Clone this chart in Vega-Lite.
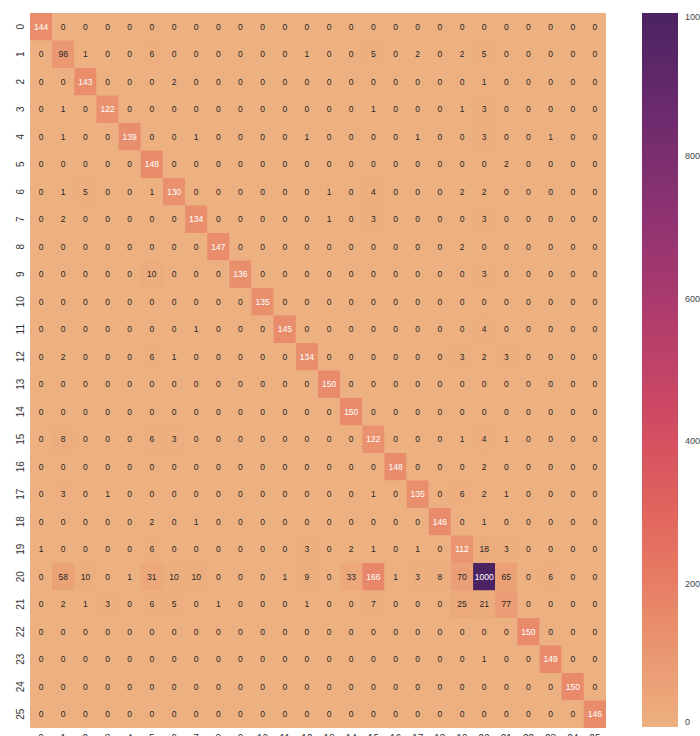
{
"$schema": "https://vega.github.io/schema/vega-lite/v6.json",
"autosize": "none",
"width": 576,
"height": 715,
"padding": {"left": 30, "top": 13, "right": 94, "bottom": 8},
"background": "white",
"config": {"view": {"stroke": null, "fill": "#EDB080"}, "font": "Liberation Sans"},
"data": {"values": [
{"r":0,"c":0,"v":144},{"r":0,"c":1,"v":0},{"r":0,"c":2,"v":0},{"r":0,"c":3,"v":0},{"r":0,"c":4,"v":0},{"r":0,"c":5,"v":0},{"r":0,"c":6,"v":0},{"r":0,"c":7,"v":0},{"r":0,"c":8,"v":0},{"r":0,"c":9,"v":0},{"r":0,"c":10,"v":0},{"r":0,"c":11,"v":0},{"r":0,"c":12,"v":0},{"r":0,"c":13,"v":0},{"r":0,"c":14,"v":0},{"r":0,"c":15,"v":0},{"r":0,"c":16,"v":0},{"r":0,"c":17,"v":0},{"r":0,"c":18,"v":0},{"r":0,"c":19,"v":0},{"r":0,"c":20,"v":0},{"r":0,"c":21,"v":0},{"r":0,"c":22,"v":0},{"r":0,"c":23,"v":0},{"r":0,"c":24,"v":0},{"r":0,"c":25,"v":0},
{"r":1,"c":0,"v":0},{"r":1,"c":1,"v":98},{"r":1,"c":2,"v":1},{"r":1,"c":3,"v":0},{"r":1,"c":4,"v":0},{"r":1,"c":5,"v":6},{"r":1,"c":6,"v":0},{"r":1,"c":7,"v":0},{"r":1,"c":8,"v":0},{"r":1,"c":9,"v":0},{"r":1,"c":10,"v":0},{"r":1,"c":11,"v":0},{"r":1,"c":12,"v":1},{"r":1,"c":13,"v":0},{"r":1,"c":14,"v":0},{"r":1,"c":15,"v":5},{"r":1,"c":16,"v":0},{"r":1,"c":17,"v":2},{"r":1,"c":18,"v":0},{"r":1,"c":19,"v":2},{"r":1,"c":20,"v":5},{"r":1,"c":21,"v":0},{"r":1,"c":22,"v":0},{"r":1,"c":23,"v":0},{"r":1,"c":24,"v":0},{"r":1,"c":25,"v":0},
{"r":2,"c":0,"v":0},{"r":2,"c":1,"v":0},{"r":2,"c":2,"v":143},{"r":2,"c":3,"v":0},{"r":2,"c":4,"v":0},{"r":2,"c":5,"v":0},{"r":2,"c":6,"v":2},{"r":2,"c":7,"v":0},{"r":2,"c":8,"v":0},{"r":2,"c":9,"v":0},{"r":2,"c":10,"v":0},{"r":2,"c":11,"v":0},{"r":2,"c":12,"v":0},{"r":2,"c":13,"v":0},{"r":2,"c":14,"v":0},{"r":2,"c":15,"v":0},{"r":2,"c":16,"v":0},{"r":2,"c":17,"v":0},{"r":2,"c":18,"v":0},{"r":2,"c":19,"v":0},{"r":2,"c":20,"v":1},{"r":2,"c":21,"v":0},{"r":2,"c":22,"v":0},{"r":2,"c":23,"v":0},{"r":2,"c":24,"v":0},{"r":2,"c":25,"v":0},
{"r":3,"c":0,"v":0},{"r":3,"c":1,"v":1},{"r":3,"c":2,"v":0},{"r":3,"c":3,"v":122},{"r":3,"c":4,"v":0},{"r":3,"c":5,"v":0},{"r":3,"c":6,"v":0},{"r":3,"c":7,"v":0},{"r":3,"c":8,"v":0},{"r":3,"c":9,"v":0},{"r":3,"c":10,"v":0},{"r":3,"c":11,"v":0},{"r":3,"c":12,"v":0},{"r":3,"c":13,"v":0},{"r":3,"c":14,"v":0},{"r":3,"c":15,"v":1},{"r":3,"c":16,"v":0},{"r":3,"c":17,"v":0},{"r":3,"c":18,"v":0},{"r":3,"c":19,"v":1},{"r":3,"c":20,"v":3},{"r":3,"c":21,"v":0},{"r":3,"c":22,"v":0},{"r":3,"c":23,"v":0},{"r":3,"c":24,"v":0},{"r":3,"c":25,"v":0},
{"r":4,"c":0,"v":0},{"r":4,"c":1,"v":1},{"r":4,"c":2,"v":0},{"r":4,"c":3,"v":0},{"r":4,"c":4,"v":139},{"r":4,"c":5,"v":0},{"r":4,"c":6,"v":0},{"r":4,"c":7,"v":1},{"r":4,"c":8,"v":0},{"r":4,"c":9,"v":0},{"r":4,"c":10,"v":0},{"r":4,"c":11,"v":0},{"r":4,"c":12,"v":1},{"r":4,"c":13,"v":0},{"r":4,"c":14,"v":0},{"r":4,"c":15,"v":0},{"r":4,"c":16,"v":0},{"r":4,"c":17,"v":1},{"r":4,"c":18,"v":0},{"r":4,"c":19,"v":0},{"r":4,"c":20,"v":3},{"r":4,"c":21,"v":0},{"r":4,"c":22,"v":0},{"r":4,"c":23,"v":1},{"r":4,"c":24,"v":0},{"r":4,"c":25,"v":0},
{"r":5,"c":0,"v":0},{"r":5,"c":1,"v":0},{"r":5,"c":2,"v":0},{"r":5,"c":3,"v":0},{"r":5,"c":4,"v":0},{"r":5,"c":5,"v":148},{"r":5,"c":6,"v":0},{"r":5,"c":7,"v":0},{"r":5,"c":8,"v":0},{"r":5,"c":9,"v":0},{"r":5,"c":10,"v":0},{"r":5,"c":11,"v":0},{"r":5,"c":12,"v":0},{"r":5,"c":13,"v":0},{"r":5,"c":14,"v":0},{"r":5,"c":15,"v":0},{"r":5,"c":16,"v":0},{"r":5,"c":17,"v":0},{"r":5,"c":18,"v":0},{"r":5,"c":19,"v":0},{"r":5,"c":20,"v":0},{"r":5,"c":21,"v":2},{"r":5,"c":22,"v":0},{"r":5,"c":23,"v":0},{"r":5,"c":24,"v":0},{"r":5,"c":25,"v":0},
{"r":6,"c":0,"v":0},{"r":6,"c":1,"v":1},{"r":6,"c":2,"v":5},{"r":6,"c":3,"v":0},{"r":6,"c":4,"v":0},{"r":6,"c":5,"v":1},{"r":6,"c":6,"v":130},{"r":6,"c":7,"v":0},{"r":6,"c":8,"v":0},{"r":6,"c":9,"v":0},{"r":6,"c":10,"v":0},{"r":6,"c":11,"v":0},{"r":6,"c":12,"v":0},{"r":6,"c":13,"v":1},{"r":6,"c":14,"v":0},{"r":6,"c":15,"v":4},{"r":6,"c":16,"v":0},{"r":6,"c":17,"v":0},{"r":6,"c":18,"v":0},{"r":6,"c":19,"v":2},{"r":6,"c":20,"v":2},{"r":6,"c":21,"v":0},{"r":6,"c":22,"v":0},{"r":6,"c":23,"v":0},{"r":6,"c":24,"v":0},{"r":6,"c":25,"v":0},
{"r":7,"c":0,"v":0},{"r":7,"c":1,"v":2},{"r":7,"c":2,"v":0},{"r":7,"c":3,"v":0},{"r":7,"c":4,"v":0},{"r":7,"c":5,"v":0},{"r":7,"c":6,"v":0},{"r":7,"c":7,"v":134},{"r":7,"c":8,"v":0},{"r":7,"c":9,"v":0},{"r":7,"c":10,"v":0},{"r":7,"c":11,"v":0},{"r":7,"c":12,"v":0},{"r":7,"c":13,"v":1},{"r":7,"c":14,"v":0},{"r":7,"c":15,"v":3},{"r":7,"c":16,"v":0},{"r":7,"c":17,"v":0},{"r":7,"c":18,"v":0},{"r":7,"c":19,"v":0},{"r":7,"c":20,"v":3},{"r":7,"c":21,"v":0},{"r":7,"c":22,"v":0},{"r":7,"c":23,"v":0},{"r":7,"c":24,"v":0},{"r":7,"c":25,"v":0},
{"r":8,"c":0,"v":0},{"r":8,"c":1,"v":0},{"r":8,"c":2,"v":0},{"r":8,"c":3,"v":0},{"r":8,"c":4,"v":0},{"r":8,"c":5,"v":0},{"r":8,"c":6,"v":0},{"r":8,"c":7,"v":0},{"r":8,"c":8,"v":147},{"r":8,"c":9,"v":0},{"r":8,"c":10,"v":0},{"r":8,"c":11,"v":0},{"r":8,"c":12,"v":0},{"r":8,"c":13,"v":0},{"r":8,"c":14,"v":0},{"r":8,"c":15,"v":0},{"r":8,"c":16,"v":0},{"r":8,"c":17,"v":0},{"r":8,"c":18,"v":0},{"r":8,"c":19,"v":2},{"r":8,"c":20,"v":0},{"r":8,"c":21,"v":0},{"r":8,"c":22,"v":0},{"r":8,"c":23,"v":0},{"r":8,"c":24,"v":0},{"r":8,"c":25,"v":0},
{"r":9,"c":0,"v":0},{"r":9,"c":1,"v":0},{"r":9,"c":2,"v":0},{"r":9,"c":3,"v":0},{"r":9,"c":4,"v":0},{"r":9,"c":5,"v":10},{"r":9,"c":6,"v":0},{"r":9,"c":7,"v":0},{"r":9,"c":8,"v":0},{"r":9,"c":9,"v":136},{"r":9,"c":10,"v":0},{"r":9,"c":11,"v":0},{"r":9,"c":12,"v":0},{"r":9,"c":13,"v":0},{"r":9,"c":14,"v":0},{"r":9,"c":15,"v":0},{"r":9,"c":16,"v":0},{"r":9,"c":17,"v":0},{"r":9,"c":18,"v":0},{"r":9,"c":19,"v":0},{"r":9,"c":20,"v":3},{"r":9,"c":21,"v":0},{"r":9,"c":22,"v":0},{"r":9,"c":23,"v":0},{"r":9,"c":24,"v":0},{"r":9,"c":25,"v":0},
{"r":10,"c":0,"v":0},{"r":10,"c":1,"v":0},{"r":10,"c":2,"v":0},{"r":10,"c":3,"v":0},{"r":10,"c":4,"v":0},{"r":10,"c":5,"v":0},{"r":10,"c":6,"v":0},{"r":10,"c":7,"v":0},{"r":10,"c":8,"v":0},{"r":10,"c":9,"v":0},{"r":10,"c":10,"v":135},{"r":10,"c":11,"v":0},{"r":10,"c":12,"v":0},{"r":10,"c":13,"v":0},{"r":10,"c":14,"v":0},{"r":10,"c":15,"v":0},{"r":10,"c":16,"v":0},{"r":10,"c":17,"v":0},{"r":10,"c":18,"v":0},{"r":10,"c":19,"v":0},{"r":10,"c":20,"v":0},{"r":10,"c":21,"v":0},{"r":10,"c":22,"v":0},{"r":10,"c":23,"v":0},{"r":10,"c":24,"v":0},{"r":10,"c":25,"v":0},
{"r":11,"c":0,"v":0},{"r":11,"c":1,"v":0},{"r":11,"c":2,"v":0},{"r":11,"c":3,"v":0},{"r":11,"c":4,"v":0},{"r":11,"c":5,"v":0},{"r":11,"c":6,"v":0},{"r":11,"c":7,"v":1},{"r":11,"c":8,"v":0},{"r":11,"c":9,"v":0},{"r":11,"c":10,"v":0},{"r":11,"c":11,"v":145},{"r":11,"c":12,"v":0},{"r":11,"c":13,"v":0},{"r":11,"c":14,"v":0},{"r":11,"c":15,"v":0},{"r":11,"c":16,"v":0},{"r":11,"c":17,"v":0},{"r":11,"c":18,"v":0},{"r":11,"c":19,"v":0},{"r":11,"c":20,"v":4},{"r":11,"c":21,"v":0},{"r":11,"c":22,"v":0},{"r":11,"c":23,"v":0},{"r":11,"c":24,"v":0},{"r":11,"c":25,"v":0},
{"r":12,"c":0,"v":0},{"r":12,"c":1,"v":2},{"r":12,"c":2,"v":0},{"r":12,"c":3,"v":0},{"r":12,"c":4,"v":0},{"r":12,"c":5,"v":6},{"r":12,"c":6,"v":1},{"r":12,"c":7,"v":0},{"r":12,"c":8,"v":0},{"r":12,"c":9,"v":0},{"r":12,"c":10,"v":0},{"r":12,"c":11,"v":0},{"r":12,"c":12,"v":134},{"r":12,"c":13,"v":0},{"r":12,"c":14,"v":0},{"r":12,"c":15,"v":0},{"r":12,"c":16,"v":0},{"r":12,"c":17,"v":0},{"r":12,"c":18,"v":0},{"r":12,"c":19,"v":3},{"r":12,"c":20,"v":2},{"r":12,"c":21,"v":3},{"r":12,"c":22,"v":0},{"r":12,"c":23,"v":0},{"r":12,"c":24,"v":0},{"r":12,"c":25,"v":0},
{"r":13,"c":0,"v":0},{"r":13,"c":1,"v":0},{"r":13,"c":2,"v":0},{"r":13,"c":3,"v":0},{"r":13,"c":4,"v":0},{"r":13,"c":5,"v":0},{"r":13,"c":6,"v":0},{"r":13,"c":7,"v":0},{"r":13,"c":8,"v":0},{"r":13,"c":9,"v":0},{"r":13,"c":10,"v":0},{"r":13,"c":11,"v":0},{"r":13,"c":12,"v":0},{"r":13,"c":13,"v":150},{"r":13,"c":14,"v":0},{"r":13,"c":15,"v":0},{"r":13,"c":16,"v":0},{"r":13,"c":17,"v":0},{"r":13,"c":18,"v":0},{"r":13,"c":19,"v":0},{"r":13,"c":20,"v":0},{"r":13,"c":21,"v":0},{"r":13,"c":22,"v":0},{"r":13,"c":23,"v":0},{"r":13,"c":24,"v":0},{"r":13,"c":25,"v":0},
{"r":14,"c":0,"v":0},{"r":14,"c":1,"v":0},{"r":14,"c":2,"v":0},{"r":14,"c":3,"v":0},{"r":14,"c":4,"v":0},{"r":14,"c":5,"v":0},{"r":14,"c":6,"v":0},{"r":14,"c":7,"v":0},{"r":14,"c":8,"v":0},{"r":14,"c":9,"v":0},{"r":14,"c":10,"v":0},{"r":14,"c":11,"v":0},{"r":14,"c":12,"v":0},{"r":14,"c":13,"v":0},{"r":14,"c":14,"v":150},{"r":14,"c":15,"v":0},{"r":14,"c":16,"v":0},{"r":14,"c":17,"v":0},{"r":14,"c":18,"v":0},{"r":14,"c":19,"v":0},{"r":14,"c":20,"v":0},{"r":14,"c":21,"v":0},{"r":14,"c":22,"v":0},{"r":14,"c":23,"v":0},{"r":14,"c":24,"v":0},{"r":14,"c":25,"v":0},
{"r":15,"c":0,"v":0},{"r":15,"c":1,"v":8},{"r":15,"c":2,"v":0},{"r":15,"c":3,"v":0},{"r":15,"c":4,"v":0},{"r":15,"c":5,"v":6},{"r":15,"c":6,"v":3},{"r":15,"c":7,"v":0},{"r":15,"c":8,"v":0},{"r":15,"c":9,"v":0},{"r":15,"c":10,"v":0},{"r":15,"c":11,"v":0},{"r":15,"c":12,"v":0},{"r":15,"c":13,"v":0},{"r":15,"c":14,"v":0},{"r":15,"c":15,"v":122},{"r":15,"c":16,"v":0},{"r":15,"c":17,"v":0},{"r":15,"c":18,"v":0},{"r":15,"c":19,"v":1},{"r":15,"c":20,"v":4},{"r":15,"c":21,"v":1},{"r":15,"c":22,"v":0},{"r":15,"c":23,"v":0},{"r":15,"c":24,"v":0},{"r":15,"c":25,"v":0},
{"r":16,"c":0,"v":0},{"r":16,"c":1,"v":0},{"r":16,"c":2,"v":0},{"r":16,"c":3,"v":0},{"r":16,"c":4,"v":0},{"r":16,"c":5,"v":0},{"r":16,"c":6,"v":0},{"r":16,"c":7,"v":0},{"r":16,"c":8,"v":0},{"r":16,"c":9,"v":0},{"r":16,"c":10,"v":0},{"r":16,"c":11,"v":0},{"r":16,"c":12,"v":0},{"r":16,"c":13,"v":0},{"r":16,"c":14,"v":0},{"r":16,"c":15,"v":0},{"r":16,"c":16,"v":148},{"r":16,"c":17,"v":0},{"r":16,"c":18,"v":0},{"r":16,"c":19,"v":0},{"r":16,"c":20,"v":2},{"r":16,"c":21,"v":0},{"r":16,"c":22,"v":0},{"r":16,"c":23,"v":0},{"r":16,"c":24,"v":0},{"r":16,"c":25,"v":0},
{"r":17,"c":0,"v":0},{"r":17,"c":1,"v":3},{"r":17,"c":2,"v":0},{"r":17,"c":3,"v":1},{"r":17,"c":4,"v":0},{"r":17,"c":5,"v":0},{"r":17,"c":6,"v":0},{"r":17,"c":7,"v":0},{"r":17,"c":8,"v":0},{"r":17,"c":9,"v":0},{"r":17,"c":10,"v":0},{"r":17,"c":11,"v":0},{"r":17,"c":12,"v":0},{"r":17,"c":13,"v":0},{"r":17,"c":14,"v":0},{"r":17,"c":15,"v":1},{"r":17,"c":16,"v":0},{"r":17,"c":17,"v":135},{"r":17,"c":18,"v":0},{"r":17,"c":19,"v":6},{"r":17,"c":20,"v":2},{"r":17,"c":21,"v":1},{"r":17,"c":22,"v":0},{"r":17,"c":23,"v":0},{"r":17,"c":24,"v":0},{"r":17,"c":25,"v":0},
{"r":18,"c":0,"v":0},{"r":18,"c":1,"v":0},{"r":18,"c":2,"v":0},{"r":18,"c":3,"v":0},{"r":18,"c":4,"v":0},{"r":18,"c":5,"v":2},{"r":18,"c":6,"v":0},{"r":18,"c":7,"v":1},{"r":18,"c":8,"v":0},{"r":18,"c":9,"v":0},{"r":18,"c":10,"v":0},{"r":18,"c":11,"v":0},{"r":18,"c":12,"v":0},{"r":18,"c":13,"v":0},{"r":18,"c":14,"v":0},{"r":18,"c":15,"v":0},{"r":18,"c":16,"v":0},{"r":18,"c":17,"v":0},{"r":18,"c":18,"v":146},{"r":18,"c":19,"v":0},{"r":18,"c":20,"v":1},{"r":18,"c":21,"v":0},{"r":18,"c":22,"v":0},{"r":18,"c":23,"v":0},{"r":18,"c":24,"v":0},{"r":18,"c":25,"v":0},
{"r":19,"c":0,"v":1},{"r":19,"c":1,"v":0},{"r":19,"c":2,"v":0},{"r":19,"c":3,"v":0},{"r":19,"c":4,"v":0},{"r":19,"c":5,"v":6},{"r":19,"c":6,"v":0},{"r":19,"c":7,"v":0},{"r":19,"c":8,"v":0},{"r":19,"c":9,"v":0},{"r":19,"c":10,"v":0},{"r":19,"c":11,"v":0},{"r":19,"c":12,"v":3},{"r":19,"c":13,"v":0},{"r":19,"c":14,"v":2},{"r":19,"c":15,"v":1},{"r":19,"c":16,"v":0},{"r":19,"c":17,"v":1},{"r":19,"c":18,"v":0},{"r":19,"c":19,"v":112},{"r":19,"c":20,"v":18},{"r":19,"c":21,"v":3},{"r":19,"c":22,"v":0},{"r":19,"c":23,"v":0},{"r":19,"c":24,"v":0},{"r":19,"c":25,"v":0},
{"r":20,"c":0,"v":0},{"r":20,"c":1,"v":58},{"r":20,"c":2,"v":10},{"r":20,"c":3,"v":0},{"r":20,"c":4,"v":1},{"r":20,"c":5,"v":31},{"r":20,"c":6,"v":10},{"r":20,"c":7,"v":10},{"r":20,"c":8,"v":0},{"r":20,"c":9,"v":0},{"r":20,"c":10,"v":0},{"r":20,"c":11,"v":1},{"r":20,"c":12,"v":9},{"r":20,"c":13,"v":0},{"r":20,"c":14,"v":33},{"r":20,"c":15,"v":166},{"r":20,"c":16,"v":1},{"r":20,"c":17,"v":3},{"r":20,"c":18,"v":8},{"r":20,"c":19,"v":70},{"r":20,"c":20,"v":1000},{"r":20,"c":21,"v":65},{"r":20,"c":22,"v":0},{"r":20,"c":23,"v":6},{"r":20,"c":24,"v":0},{"r":20,"c":25,"v":0},
{"r":21,"c":0,"v":0},{"r":21,"c":1,"v":2},{"r":21,"c":2,"v":1},{"r":21,"c":3,"v":3},{"r":21,"c":4,"v":0},{"r":21,"c":5,"v":6},{"r":21,"c":6,"v":5},{"r":21,"c":7,"v":0},{"r":21,"c":8,"v":1},{"r":21,"c":9,"v":0},{"r":21,"c":10,"v":0},{"r":21,"c":11,"v":0},{"r":21,"c":12,"v":1},{"r":21,"c":13,"v":0},{"r":21,"c":14,"v":0},{"r":21,"c":15,"v":7},{"r":21,"c":16,"v":0},{"r":21,"c":17,"v":0},{"r":21,"c":18,"v":0},{"r":21,"c":19,"v":25},{"r":21,"c":20,"v":21},{"r":21,"c":21,"v":77},{"r":21,"c":22,"v":0},{"r":21,"c":23,"v":0},{"r":21,"c":24,"v":0},{"r":21,"c":25,"v":0},
{"r":22,"c":0,"v":0},{"r":22,"c":1,"v":0},{"r":22,"c":2,"v":0},{"r":22,"c":3,"v":0},{"r":22,"c":4,"v":0},{"r":22,"c":5,"v":0},{"r":22,"c":6,"v":0},{"r":22,"c":7,"v":0},{"r":22,"c":8,"v":0},{"r":22,"c":9,"v":0},{"r":22,"c":10,"v":0},{"r":22,"c":11,"v":0},{"r":22,"c":12,"v":0},{"r":22,"c":13,"v":0},{"r":22,"c":14,"v":0},{"r":22,"c":15,"v":0},{"r":22,"c":16,"v":0},{"r":22,"c":17,"v":0},{"r":22,"c":18,"v":0},{"r":22,"c":19,"v":0},{"r":22,"c":20,"v":0},{"r":22,"c":21,"v":0},{"r":22,"c":22,"v":150},{"r":22,"c":23,"v":0},{"r":22,"c":24,"v":0},{"r":22,"c":25,"v":0},
{"r":23,"c":0,"v":0},{"r":23,"c":1,"v":0},{"r":23,"c":2,"v":0},{"r":23,"c":3,"v":0},{"r":23,"c":4,"v":0},{"r":23,"c":5,"v":0},{"r":23,"c":6,"v":0},{"r":23,"c":7,"v":0},{"r":23,"c":8,"v":0},{"r":23,"c":9,"v":0},{"r":23,"c":10,"v":0},{"r":23,"c":11,"v":0},{"r":23,"c":12,"v":0},{"r":23,"c":13,"v":0},{"r":23,"c":14,"v":0},{"r":23,"c":15,"v":0},{"r":23,"c":16,"v":0},{"r":23,"c":17,"v":0},{"r":23,"c":18,"v":0},{"r":23,"c":19,"v":0},{"r":23,"c":20,"v":1},{"r":23,"c":21,"v":0},{"r":23,"c":22,"v":0},{"r":23,"c":23,"v":149},{"r":23,"c":24,"v":0},{"r":23,"c":25,"v":0},
{"r":24,"c":0,"v":0},{"r":24,"c":1,"v":0},{"r":24,"c":2,"v":0},{"r":24,"c":3,"v":0},{"r":24,"c":4,"v":0},{"r":24,"c":5,"v":0},{"r":24,"c":6,"v":0},{"r":24,"c":7,"v":0},{"r":24,"c":8,"v":0},{"r":24,"c":9,"v":0},{"r":24,"c":10,"v":0},{"r":24,"c":11,"v":0},{"r":24,"c":12,"v":0},{"r":24,"c":13,"v":0},{"r":24,"c":14,"v":0},{"r":24,"c":15,"v":0},{"r":24,"c":16,"v":0},{"r":24,"c":17,"v":0},{"r":24,"c":18,"v":0},{"r":24,"c":19,"v":0},{"r":24,"c":20,"v":0},{"r":24,"c":21,"v":0},{"r":24,"c":22,"v":0},{"r":24,"c":23,"v":0},{"r":24,"c":24,"v":150},{"r":24,"c":25,"v":0},
{"r":25,"c":0,"v":0},{"r":25,"c":1,"v":0},{"r":25,"c":2,"v":0},{"r":25,"c":3,"v":0},{"r":25,"c":4,"v":0},{"r":25,"c":5,"v":0},{"r":25,"c":6,"v":0},{"r":25,"c":7,"v":0},{"r":25,"c":8,"v":0},{"r":25,"c":9,"v":0},{"r":25,"c":10,"v":0},{"r":25,"c":11,"v":0},{"r":25,"c":12,"v":0},{"r":25,"c":13,"v":0},{"r":25,"c":14,"v":0},{"r":25,"c":15,"v":0},{"r":25,"c":16,"v":0},{"r":25,"c":17,"v":0},{"r":25,"c":18,"v":0},{"r":25,"c":19,"v":0},{"r":25,"c":20,"v":0},{"r":25,"c":21,"v":0},{"r":25,"c":22,"v":0},{"r":25,"c":23,"v":0},{"r":25,"c":24,"v":0},{"r":25,"c":25,"v":146}
]},
"encoding": {
  "x": {"field": "c", "type": "ordinal", "sort": "ascending", "scale": {"paddingInner": 0, "paddingOuter": 0},
        "axis": {"title": null, "domain": false, "ticks": false, "labelAngle": 0, "labelPadding": 5, "labelFontSize": 10, "labelColor": "#333333", "labelBaseline": "top"}},
  "y": {"field": "r", "type": "ordinal", "sort": "ascending", "scale": {"paddingInner": 0, "paddingOuter": 0},
        "axis": {"title": null, "domain": false, "ticks": false, "labelAngle": 270, "labelAlign": "center", "labelBaseline": "bottom", "labelPadding": 5, "labelFontSize": 10, "labelColor": "#333333"}}
},
"layer": [
  {"mark": {"type": "rect"},
   "encoding": {
     "color": {"field": "v", "type": "quantitative",
       "scale": {"domain": [0, 1000], "range": ["#EDB080", "#E98D6B", "#E3685C", "#D14A61", "#B13C6C", "#8F3371", "#6C2B6D", "#4B2362"], "interpolate": "rgb"},
       "legend": {"title": null, "orient": "none", "legendX": 612, "legendY": 0, "direction": "vertical", "gradientLength": 714, "gradientThickness": 36, "gradientStrokeWidth": 0, "values": [0, 200, 400, 600, 800, 1000], "format": "d", "labelFontSize": 9, "labelColor": "#444444", "labelOffset": 7, "labelBaseline": "middle"}}
   }},
  {"mark": {"type": "text", "fontSize": 8.5, "font": "Liberation Sans"},
   "encoding": {
     "text": {"field": "v", "type": "quantitative"},
     "color": {"condition": {"test": "datum.v >= 100", "value": "#ffffff"}, "value": "#262626"}
   }}
]
}
